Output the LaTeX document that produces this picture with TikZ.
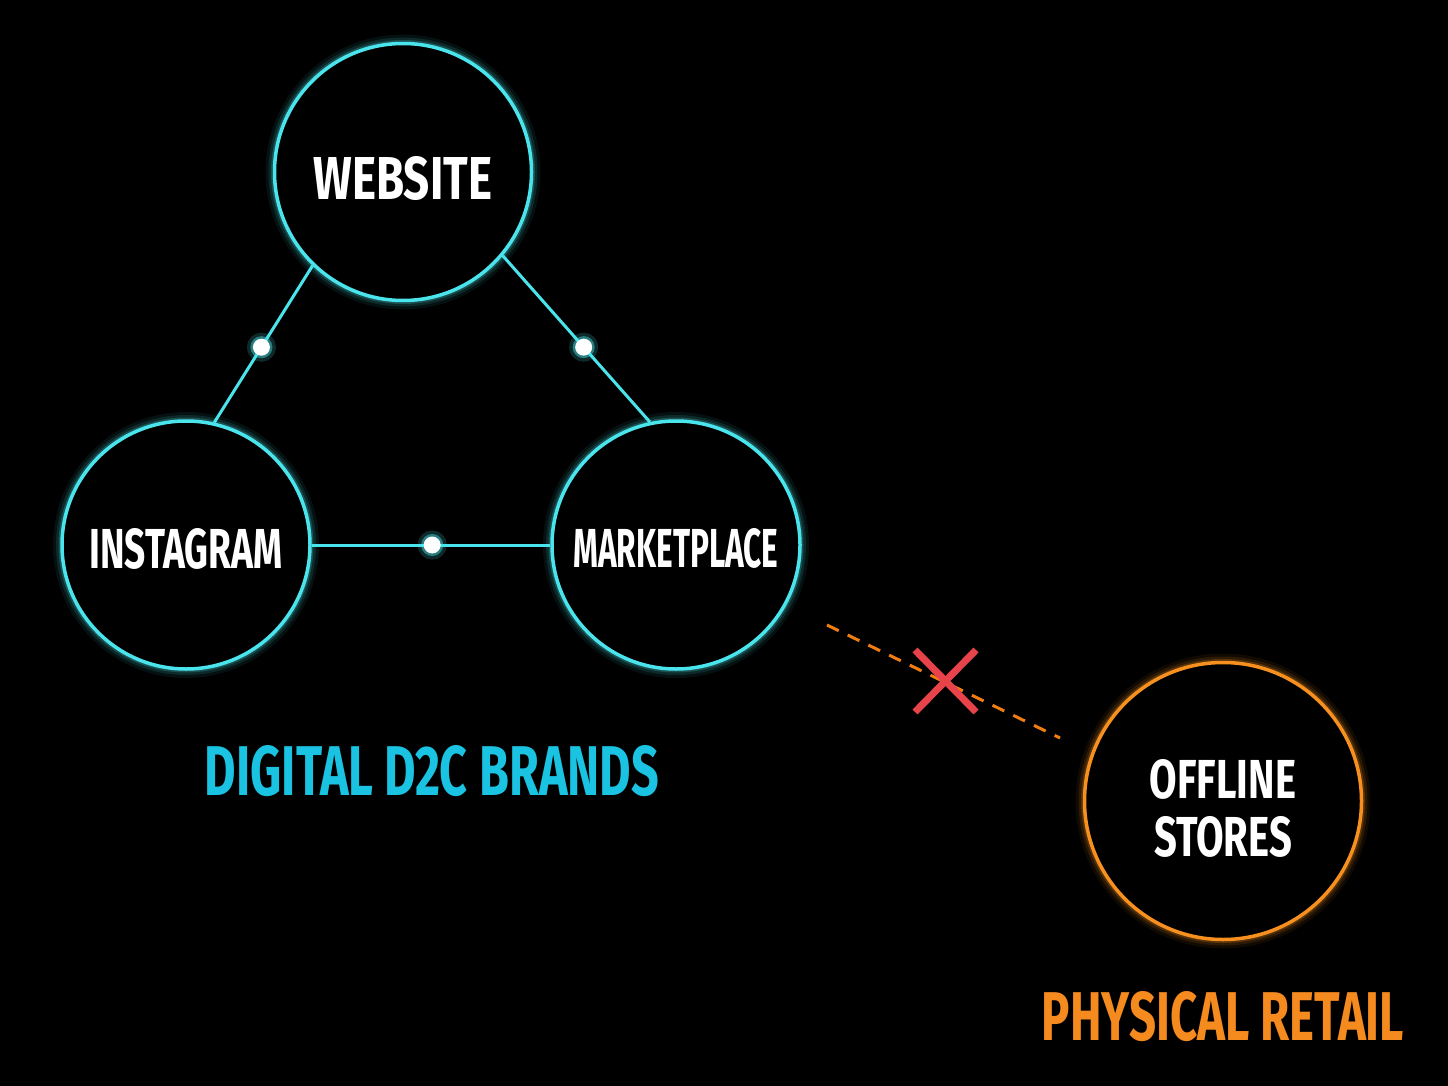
\documentclass[tikz,border=0pt]{standalone}
\usepackage{fontspec}
\usepackage{graphicx}
\newfontfamily\cond{Fira Sans}[UprightFont=* Bold, FakeStretch=0.68]
\definecolor{cyanline}{HTML}{4AE4EC}
\definecolor{cyantext}{HTML}{1BC3E2}
\definecolor{orangeline}{HTML}{F7901E}
\definecolor{orangetext}{HTML}{F58A1F}
\definecolor{dashorange}{HTML}{F07D12}
\definecolor{crossred}{HTML}{E8434A}
% #1 width, #2 cap height, #3 drop of baseline below centre, #4 text
\newcommand\fitword[4]{\makebox[0pt]{\raisebox{-#3}[0pt][0pt]{\resizebox{#1}{#2}{\cond #4}}}}
\tikzset{
  hub/.style={circle, draw=#1, line width=3.5pt, fill=black, inner sep=0pt,
    text=white,
    preaction={draw=#1, line width=18pt, draw opacity=0.07},
    preaction={draw=#1, line width=12pt, draw opacity=0.12},
    preaction={draw=#1, line width=7pt, draw opacity=0.22}},
  link/.style={draw=cyanline, line width=3pt},
  dot/.style={circle, fill=white, minimum size=17pt, inner sep=0pt,
    preaction={draw=cyanline, draw opacity=0.18, line width=12pt},
    preaction={draw=cyanline, draw opacity=0.45, line width=5pt}},
  caption/.style={inner sep=0pt},
  cross/.style={draw=crossred, line width=7pt},
}
\begin{document}
\begin{tikzpicture}[x=1pt,y=-1pt]
\fill[black] (0,0) rectangle (1448,1086);
\useasboundingbox (0,0) rectangle (1448,1086);
% hubs
\node[hub=cyanline, minimum size=257pt] (web) at (403,172)
  {\fitword{178pt}{43pt}{28pt}{WEBSITE}};
\node[hub=cyanline, minimum size=248pt] (ins) at (186,545)
  {\fitword{193pt}{40pt}{23pt}{INSTAGRAM}};
\node[hub=cyanline, minimum size=248pt] (mkt) at (676,545)
  {\fitword{205pt}{39pt}{22pt}{MARKETPLACE}};
\node[hub=orangeline, minimum size=277pt] (off) at (1223,801)
  {\fitword{146pt}{39pt}{-3pt}{OFFLINE}\fitword{138pt}{40pt}{55pt}{STORES}};
% links
\draw[link] (web.226) -- node[dot, pos=0.52] (d1) {} (ins.77);
\draw[link] (web.320) -- node[dot, pos=0.55] (d2) {} (mkt.102);
\draw[link] (ins.east) -- node[dot, pos=0.505] (d3) {} (mkt.west);
% broken link
\coordinate (ds) at (827,625);
\coordinate (de) at (1060,738);
\draw[draw=dashorange, line width=3pt, dash pattern=on 13pt off 10pt] (ds) -- (de);
\coordinate (xa) at (915,650);
\coordinate (xb) at (976,712);
\coordinate (xc) at (976,650);
\coordinate (xd) at (915,712);
\draw[cross] (xa) -- (xb);
\draw[cross] (xc) -- (xd);
% captions
\node[caption, text=cyantext] (cap1) at (432,771) {\resizebox{454pt}{50pt}{\cond DIGITAL D2C BRANDS}};
\node[caption, text=orangetext] (cap2) at (1223,1017) {\resizebox{362pt}{49pt}{\cond PHYSICAL RETAIL}};
\end{tikzpicture}
\end{document}
